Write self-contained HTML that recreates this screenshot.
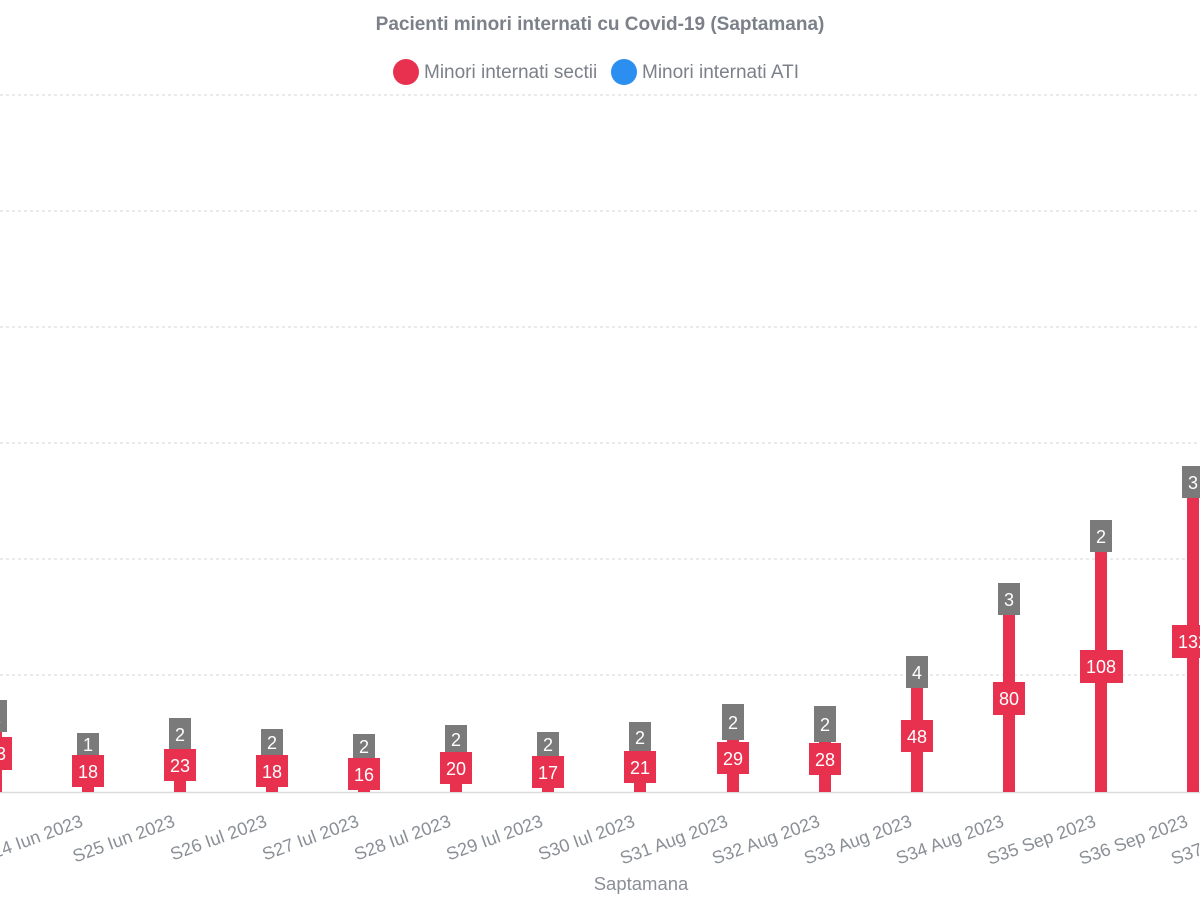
<!DOCTYPE html>
<html><head><meta charset="utf-8"><style>
html,body{margin:0;padding:0;background:#fff;}
svg{display:block;font-family:"Liberation Sans",sans-serif;}
.g{fill:#7a7a7a}.r{fill:#e8314f}
.bt{fill:#fff;font-size:18px;text-anchor:middle}
.xl{fill:#8a8f96;font-size:18px;text-anchor:end}
</style></head><body>
<svg width="1200" height="900" viewBox="0 0 1200 900">
<text x="600" y="30" text-anchor="middle" font-size="19" font-weight="bold" fill="#7b8089">Pacienti minori internati cu Covid-19 (Saptamana)</text>
<circle cx="406" cy="72" r="13" fill="#e8314f"/>
<text x="424" y="78" font-size="19" fill="#7b8089">Minori internati sectii</text>
<circle cx="624" cy="72" r="13" fill="#2b8ff0"/>
<text x="642" y="78" font-size="19" fill="#7b8089">Minori internati ATI</text>
<g stroke="#d6d6d6" stroke-dasharray="3,3" stroke-width="1">
<line x1="0" y1="95" x2="1200" y2="95"/><line x1="0" y1="211" x2="1200" y2="211"/>
<line x1="0" y1="327" x2="1200" y2="327"/><line x1="0" y1="443" x2="1200" y2="443"/>
<line x1="0" y1="559" x2="1200" y2="559"/><line x1="0" y1="675" x2="1200" y2="675"/>
</g>
<line x1="0" y1="792.5" x2="1200" y2="792.5" stroke="#dcdcdc" stroke-width="1.5"/>

<g class="r">
<rect x="-10" y="732" width="12" height="60"/><rect x="82" y="755" width="12" height="37"/>
<rect x="174" y="749" width="12" height="43"/><rect x="266" y="755" width="12" height="37"/>
<rect x="358" y="758" width="12" height="34"/><rect x="450" y="752" width="12" height="40"/>
<rect x="542" y="756" width="12" height="36"/><rect x="634" y="751" width="12" height="41"/>
<rect x="727" y="740" width="12" height="52"/><rect x="819" y="742" width="12" height="50"/>
<rect x="911" y="688" width="12" height="104"/><rect x="1003" y="615" width="12" height="177"/>
<rect x="1095" y="552" width="12" height="240"/><rect x="1187" y="498" width="12" height="294"/>
<rect x="-20" y="737" width="32" height="33"/><rect x="72" y="755" width="32" height="32"/>
<rect x="164" y="749" width="32" height="32"/><rect x="256" y="755" width="32" height="32"/>
<rect x="348" y="758" width="32" height="32"/><rect x="440" y="752" width="32" height="32"/>
<rect x="532" y="756" width="32" height="32"/><rect x="624" y="751" width="32" height="32"/>
<rect x="717" y="742" width="32" height="32"/><rect x="809" y="743" width="32" height="32"/>
<rect x="901" y="720" width="32" height="32"/><rect x="993" y="682" width="32" height="33"/>
<rect x="1080" y="650" width="43" height="33"/><rect x="1172" y="625" width="43" height="33"/>
</g>
<g class="g">
<rect x="-15" y="700" width="22" height="32"/><rect x="77" y="733" width="22" height="22"/>
<rect x="169" y="718" width="22" height="31"/><rect x="261" y="729" width="22" height="26"/>
<rect x="353" y="734" width="22" height="24"/><rect x="445" y="725" width="22" height="27"/>
<rect x="537" y="732" width="22" height="24"/><rect x="629" y="722" width="22" height="29"/>
<rect x="722" y="704" width="22" height="36"/><rect x="814" y="706" width="22" height="36"/>
<rect x="906" y="656" width="22" height="32"/><rect x="998" y="583" width="22" height="32"/>
<rect x="1090" y="520" width="22" height="32"/><rect x="1182" y="466" width="22" height="32"/>
</g>
<g class="bt">
<text x="-4" y="760">23</text><text x="88" y="778">18</text><text x="180" y="772">23</text>
<text x="272" y="778">18</text><text x="364" y="781">16</text><text x="456" y="775">20</text>
<text x="548" y="779">17</text><text x="640" y="774">21</text><text x="733" y="765">29</text>
<text x="825" y="766">28</text><text x="917" y="743">48</text><text x="1009" y="705">80</text>
<text x="1101" y="673">108</text><text x="1193" y="648">132</text>
<text x="-4" y="723">2</text><text x="88" y="751">1</text><text x="180" y="741">2</text>
<text x="272" y="749">2</text><text x="364" y="753">2</text><text x="456" y="746">2</text>
<text x="548" y="751">2</text><text x="640" y="744">2</text><text x="733" y="729">2</text>
<text x="825" y="731">2</text><text x="917" y="679">4</text><text x="1009" y="606">3</text>
<text x="1101" y="543">2</text><text x="1193" y="489">3</text>
</g>
<g class="xl">
<text transform="translate(84,826) rotate(-20)">S24 Iun 2023</text>
<text transform="translate(176,826) rotate(-20)">S25 Iun 2023</text>
<text transform="translate(268,826) rotate(-20)">S26 Iul 2023</text>
<text transform="translate(360,826) rotate(-20)">S27 Iul 2023</text>
<text transform="translate(452,826) rotate(-20)">S28 Iul 2023</text>
<text transform="translate(544,826) rotate(-20)">S29 Iul 2023</text>
<text transform="translate(636,826) rotate(-20)">S30 Iul 2023</text>
<text transform="translate(729,826) rotate(-20)">S31 Aug 2023</text>
<text transform="translate(821,826) rotate(-20)">S32 Aug 2023</text>
<text transform="translate(913,826) rotate(-20)">S33 Aug 2023</text>
<text transform="translate(1005,826) rotate(-20)">S34 Aug 2023</text>
<text transform="translate(1097,826) rotate(-20)">S35 Sep 2023</text>
<text transform="translate(1189,826) rotate(-20)">S36 Sep 2023</text>
<text transform="translate(1281,826) rotate(-20)">S37 Sep 2023</text>
</g>
<text x="641" y="890" text-anchor="middle" font-size="18.5" fill="#8a8f96">Saptamana</text>
</svg>
</body></html>
